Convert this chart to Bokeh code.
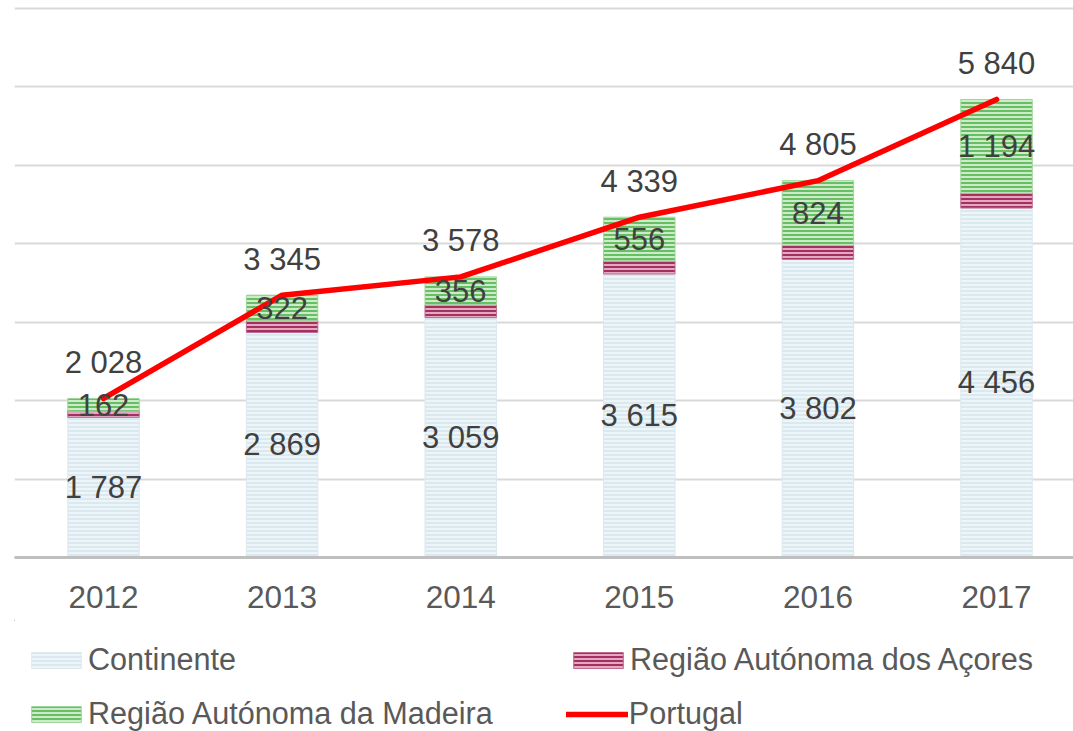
import numpy as np
from bokeh.plotting import figure
from bokeh.layouts import column
from bokeh.models import (ColumnDataSource, Range1d, FixedTicker, Legend,
                          LegendItem, Grid)
from bokeh.embed import file_html
from bokeh.resources import INLINE
from bokeh.core.properties import value

# ---- data ----
years = ["2012", "2013", "2014", "2015", "2016", "2017"]
continente = [1787, 2869, 3059, 3615, 3802, 4456]
acores = [79, 154, 163, 168, 179, 190]
madeira = [162, 322, 356, 556, 824, 1194]
portugal = [2028, 3345, 3578, 4339, 4805, 5840]
grid_values = [1000, 2000, 3000, 4000, 5000, 6000, 7000]
series_names = ["Continente", "Região Autónoma dos Açores",
                "Região Autónoma da Madeira", "Portugal"]


def fmt(v):
    return f"{v:,}".replace(",", " ")


xs = list(range(len(years)))
cont = np.array(continente)
ac = np.array(acores)
mad = np.array(madeira)

src = ColumnDataSource(dict(
    x=xs,
    c_bot=np.zeros(len(xs)), c_top=cont,
    a_bot=cont, a_top=cont + ac,
    m_bot=cont + ac, m_top=cont + ac + mad,
    c_mid=cont / 2, m_mid=cont + ac + mad / 2,
    tot=portugal,
    c_lab=[fmt(v) for v in continente],
    m_lab=[fmt(v) for v in madeira],
    t_lab=[fmt(v) for v in portugal],
))

FONT = "Liberation Sans"

STY_C = dict(fill_color="#eef5f8", line_color="#dbe9ef", line_width=1,
             hatch_pattern="horizontal_line", hatch_color="#d3e6ee",
             hatch_scale=4, hatch_weight=1.5)
STY_A = dict(fill_color="#e3a9c2", line_color="#c06890", line_width=1,
             hatch_pattern="horizontal_line", hatch_color="#a3305f",
             hatch_scale=4, hatch_weight=2)
STY_M = dict(fill_color="#cdebc8", line_color="#9fd69a", line_width=1,
             hatch_pattern="horizontal_line", hatch_color="#66c063",
             hatch_scale=4, hatch_weight=2)
STY_L = dict(line_color="#ff0000", line_width=5.5, line_cap="round",
             line_join="round")

W = 0.4


def draw_series(fig):
    rc = fig.vbar(x="x", bottom="c_bot", top="c_top", width=W, source=src, **STY_C)
    ra = fig.vbar(x="x", bottom="a_bot", top="a_top", width=W, source=src, **STY_A)
    rm = fig.vbar(x="x", bottom="m_bot", top="m_top", width=W, source=src, **STY_M)
    rl = fig.line(x="x", y="tot", source=src, **STY_L)
    return rc, ra, rm, rl


# ---------------- main chart ----------------
p = figure(width=1073, height=620,
           x_range=Range1d(-0.4983, 5.431), y_range=Range1d(0, 7102),
           output_backend="svg", toolbar_location=None,
           y_axis_location=None,
           min_border_left=14, min_border_right=0, min_border_top=0,
           min_border_bottom=63)
p.outline_line_color = None
p.background_fill_color = "white"
p.border_fill_color = "white"
for g in p.grid:
    g.visible = False

p.add_layout(Grid(dimension=1, ticker=FixedTicker(ticks=grid_values),
                  grid_line_color="#d9d9d9", grid_line_width=2), "center")

draw_series(p)

lab_kw = dict(text_font=value(FONT), text_font_size="31px",
              text_color="#404040", text_align="center",
              text_baseline="middle", source=src)
p.text(x="x", y="c_mid", text="c_lab", **lab_kw)
p.text(x="x", y="m_mid", text="m_lab", **lab_kw)
p.text(x="x", y="tot", text="t_lab", y_offset=-36, **lab_kw)

ax = p.xaxis[0]
ax.ticker = FixedTicker(ticks=xs)
ax.major_label_overrides = {i: y for i, y in zip(xs, years)}
ax.major_tick_line_color = None
ax.minor_tick_line_color = None
ax.axis_line_color = "#bfbfbf"
ax.axis_line_width = 3
ax.major_label_text_font = FONT
ax.major_label_text_font_size = "31.5px"
ax.major_label_text_color = "#595959"
ax.major_label_standoff = 22

# ---------------- legend strip ----------------
# The same series are drawn in a strip whose ranges lie away from all data,
# so only the legend entries show there.
q = figure(width=1073, height=111,
           x_range=Range1d(10, 20), y_range=Range1d(-20000, -10000),
           output_backend="svg", toolbar_location=None,
           x_axis_location=None, y_axis_location=None,
           min_border=0)
q.outline_line_color = None
q.background_fill_color = "white"
q.border_fill_color = "white"
for g in q.grid:
    g.visible = False

l_c, l_a, l_m, l_l = draw_series(q)

leg_kw = dict(orientation="horizontal", margin=0, padding=0,
              glyph_width=62, glyph_height=20, label_standoff=1,
              label_text_font=FONT, label_text_font_size="30.6px",
              label_text_color="#595959", border_line_alpha=0,
              background_fill_alpha=0)
leg1 = Legend(items=[LegendItem(label=series_names[0], renderers=[l_c]),
                     LegendItem(label=series_names[1], renderers=[l_a])],
              location=(11, 54), spacing=331, **leg_kw)
leg2 = Legend(items=[LegendItem(label=series_names[2], renderers=[l_m]),
                     LegendItem(label=series_names[3], renderers=[l_l])],
              location=(11, 0), spacing=73, **leg_kw)
q.add_layout(leg1, "center")
q.add_layout(leg2, "center")

layout = column(p, q, spacing=0)
open("out.html", "w").write(file_html(layout, INLINE))
